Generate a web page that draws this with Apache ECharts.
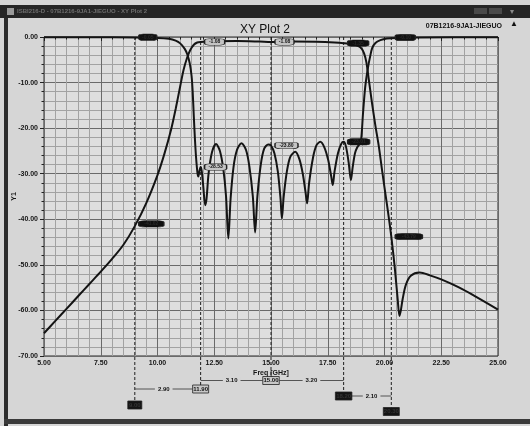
<!DOCTYPE html>
<html><head><meta charset="utf-8">
<script src="https://cdn.jsdelivr.net/npm/echarts/dist/echarts.min.js"></script>
<style>html,body{margin:0;padding:0;background:#d4d4d4}#c{width:530px;height:426px}</style>
</head><body><div id="c"></div><script>
// ---- data ----
const xTickValues = [5, 7.5, 10, 12.5, 15, 17.5, 20, 22.5, 25];
const yTickValues = [0, -10, -20, -30, -40, -50, -60, -70];

const s21Freq = [5.0,5.5,6.0,6.5,7.0,7.5,8.0,8.5,9.0,9.5,10.0,10.3,10.6,10.8,11.0,11.15,11.3,11.45,11.6,11.75,11.9,12.5,13.5,14.5,15.0,16.0,17.0,17.8,18.2,18.6,18.85,19.0,19.1,19.2,19.3,19.45,19.6,19.75,19.9,20.08,20.2,20.3,20.45,20.58,20.66,20.72,20.8,20.94,21.16,21.55,22.0,22.5,23.3,24.0,25.0];
const s21Db = [-65.0,-62.3,-59.6,-56.9,-54.2,-51.5,-48.7,-45.6,-41.5,-36.5,-30.3,-25.7,-20.3,-15.8,-10.8,-7.2,-4.6,-2.8,-1.7,-1.2,-1.08,-0.95,-0.9,-1.0,-1.08,-1.0,-1.05,-1.2,-1.35,-1.6,-2.0,-2.6,-3.6,-5.5,-9.0,-14.5,-19.5,-24.0,-29.5,-35.8,-40.0,-43.8,-50.5,-57.5,-61.2,-60.0,-57.5,-54.4,-52.4,-51.7,-52.3,-53.2,-55.0,-56.9,-59.8];

const s11Freq = [5.0,7.0,9.0,10.0,10.5,10.8,11.0,11.2,11.32,11.42,11.5,11.55,11.6,11.65,11.7,11.76,11.8,11.84,11.9,11.95,12.02,12.1,12.16,12.25,12.4,12.58,12.75,12.9,13.02,13.12,13.22,13.35,13.5,13.7,13.9,14.05,14.2,14.3,14.4,14.55,14.7,14.88,15.0,15.15,15.3,15.42,15.48,15.56,15.7,15.85,16.07,16.25,16.4,16.52,16.59,16.68,16.85,17.0,17.17,17.35,17.52,17.65,17.72,17.8,17.95,18.1,18.2,18.3,18.42,18.52,18.6,18.7,18.8,18.9,18.97,19.05,19.15,19.27,19.37,19.46,19.6,19.82,20.1,20.5,21.5,25.0];
const s11Db = [-0.05,-0.05,-0.1,-0.2,-0.4,-0.8,-1.4,-2.6,-3.9,-5.8,-8.5,-12.0,-17.5,-22.5,-26.5,-29.8,-30.6,-29.6,-28.5,-29.5,-33.0,-36.9,-35.5,-30.0,-25.3,-23.5,-25.0,-29.0,-35.0,-44.2,-35.5,-28.5,-24.8,-23.3,-24.8,-28.5,-35.0,-42.9,-35.0,-28.0,-24.5,-23.6,-23.8,-25.5,-29.5,-35.5,-39.8,-35.0,-29.5,-26.3,-25.2,-26.8,-30.0,-34.0,-36.5,-32.0,-26.5,-23.8,-23.0,-24.2,-27.0,-30.5,-32.5,-29.5,-25.5,-23.4,-23.0,-24.0,-27.5,-31.4,-28.5,-25.5,-24.2,-23.5,-22.6,-17.0,-11.0,-6.8,-4.2,-2.4,-1.3,-0.7,-0.35,-0.2,-0.1,-0.05];

const markerFreqs = [9.0, 11.9, 15.0, 18.2, 20.3];
const markerNames = ['9.00', '11.90', '15.00', '18.20', '20.30'];
const deltaNames = ['2.90', '3.10', '3.20', '2.10'];
const s21MarkerDb = [-41.0, -1.08, -1.08, -1.35, -43.8];
const s11MarkerDb = [-0.05, -28.53, -23.80, -23.0, -0.1];
const s21MarkerText = ['-41.02', '-1.08', '-1.08', '-1.35', '-43.79'];
const s11MarkerText = ['-0.05', '-28.53', '-23.80', '-23.01', '-0.10'];
const markerShown = [false, true, true, false, false]; // grey (readable) vs black boxes

// ---- chart ----
const FONT = '"Liberation Sans Narrow","Liberation Sans",Arial,sans-serif';
const zip = (a, b) => a.map((v, i) => [v, b[i]]);
const chart = echarts.init(document.getElementById('c'));

function markPts(vals, texts, widths) {
  return markerFreqs.map((f, i) => {
    const w = widths[i];
    const grey = markerShown[i];
    return {
      coord: [f, vals[i]],
      symbol: 'roundRect',
      symbolSize: [w, 6.5],
      symbolOffset: [w / 2 + 4, 0],
      itemStyle: {color: grey ? '#c4c4c4' : '#111', borderColor: '#222', borderWidth: 0.8},
      label: {show: true, position: 'inside', formatter: texts[i], fontSize: 5, fontWeight: 'bold',
               fontFamily: FONT, color: grey ? '#111' : '#2a2a2a'}
    };
  });
}

const axisCommon = {
  type: 'value',
  axisLine: {show: false},
  axisTick: {show: true, length: 4, lineStyle: {color: '#222'}},
  minorTick: {show: true, splitNumber: 5, length: 2.5, lineStyle: {color: '#222'}},
  splitLine: {show: true, lineStyle: {color: '#6a6a6a', width: 1}},
  minorSplitLine: {show: true, lineStyle: {color: '#a2a2a2', width: 1}},
  axisLabel: {formatter: v => v.toFixed(2), fontSize: 7, fontWeight: 'bold', color: '#151515', fontFamily: FONT},
  nameMoveOverlap: false,
  nameTextStyle: {fontSize: 7, fontWeight: 'bold', color: '#151515', fontFamily: FONT}
};

chart.setOption({
  animation: false,
  backgroundColor: '#d6d6d6',
  title: {text: 'XY Plot 2', left: 'center', top: 19,
          textStyle: {fontSize: 12, fontWeight: 'normal', color: '#111', fontFamily: 'Liberation Sans, Arial, sans-serif'}},
  grid: {left: 44, right: 32, top: 37, bottom: 70, containLabel: false, outerBoundsMode: 'none',
         show: true, backgroundColor: '#dedede', borderColor: '#2a2a2a', borderWidth: 1},
  xAxis: Object.assign({}, axisCommon, {
    min: xTickValues[0], max: xTickValues[xTickValues.length - 1], interval: xTickValues[1] - xTickValues[0],
    axisLabel: Object.assign({}, axisCommon.axisLabel, {margin: 4}),
    name: 'Freq [GHz]', nameLocation: 'middle', nameGap: 14
  }),
  yAxis: Object.assign({}, axisCommon, {
    min: yTickValues[yTickValues.length - 1], max: yTickValues[0], interval: yTickValues[0] - yTickValues[1],
    axisLabel: Object.assign({}, axisCommon.axisLabel, {margin: 6}),
    name: 'Y1', nameLocation: 'middle', nameGap: 26, nameRotate: 90
  }),
  series: [
    {name: 'S21', type: 'line', data: zip(s21Freq, s21Db), showSymbol: false, smooth: 0.3,
     lineStyle: {color: '#141414', width: 2}, z: 3,
     markPoint: {data: markPts(s21MarkerDb, s21MarkerText, [25, 20, 19, 21, 27]), z: 5}},
    {name: 'S11', type: 'line', data: zip(s11Freq, s11Db), showSymbol: false, smooth: 0.3,
     lineStyle: {color: '#141414', width: 2}, z: 3,
     markPoint: {data: markPts(s11MarkerDb, s11MarkerText, [18, 22, 23, 22, 20]), z: 5}}
  ]
});

// ---- marker lines & delta annotations (positions from the axis scale) ----
const px = markerFreqs.map(f => chart.convertToPixel({xAxisIndex: 0}, f));
const topY = chart.convertToPixel({yAxisIndex: 0}, yTickValues[0]);
const boxY = [405, 389, 380.5, 396, 411.5];         // centre y of the frequency boxes
const boxW = [14, 16, 16.5, 16.5, 16];
const boxDark = [true, false, false, true, true];
const g = [];
// window chrome
g.push({type: 'rect', shape: {x: 0, y: 5, width: 530, height: 13}, style: {fill: '#262626'}, z: 0});
g.push({type: 'rect', shape: {x: 7, y: 8, width: 7, height: 7}, style: {fill: '#9a9a9a'}, z: 1});
g.push({type: 'text', x: 17, y: 8.5, style: {text: 'ISBI216-D - 07B1216-9JA1-JIEGUO - XY Plot 2', fill: '#6f6f6f', font: 'bold 6px ' + FONT}, z: 1});
g.push({type: 'rect', shape: {x: 474, y: 8, width: 13, height: 6}, style: {fill: '#4a4a4a'}, z: 1});
g.push({type: 'rect', shape: {x: 489, y: 8, width: 13, height: 6}, style: {fill: '#4a4a4a'}, z: 1});
g.push({type: 'text', x: 510, y: 8, style: {text: '▾', fill: '#8a8a8a', font: '8px ' + FONT}, z: 1});
g.push({type: 'rect', shape: {x: 4, y: 18, width: 4, height: 408}, style: {fill: '#2c2c2c'}, z: 0});
g.push({type: 'rect', shape: {x: 4, y: 419, width: 526, height: 5}, style: {fill: '#3a3a3a'}, z: 0});
g.push({type: 'text', x: 502, y: 23, style: {text: '07B1216-9JA1-JIEGUO', fill: '#111', font: 'bold 7px ' + FONT, textAlign: 'right'}, z: 1});
g.push({type: 'text', x: 510, y: 20, style: {text: '▲', fill: '#111', font: '8px ' + FONT}, z: 1});

markerFreqs.forEach((f, i) => {
  const x = px[i];
  g.push({type: 'line', shape: {x1: x, y1: topY, x2: x, y2: boxY[i] - 4}, style: {stroke: '#1e1e1e', lineWidth: 1, lineDash: [3, 2]}, z: 1});
  g.push({type: 'rect', shape: {x: x - boxW[i] / 2, y: boxY[i] - 4, width: boxW[i], height: 8},
          style: {fill: boxDark[i] ? '#141414' : '#c8c8c8', stroke: '#222', lineWidth: 0.8}, z: 2});
  g.push({type: 'text', x: x, y: boxY[i], style: {text: markerNames[i], fill: boxDark[i] ? '#333' : '#111',
          font: 'bold 6px ' + FONT, textAlign: 'center', textVerticalAlign: 'middle'}, z: 3});
});
function delta(x1, x2, y, label) {
  g.push({type: 'line', shape: {x1: x1, y1: y, x2: x2, y2: y}, style: {stroke: '#333', lineWidth: 0.8}, z: 1});
  g.push({type: 'text', x: (x1 + x2) / 2, y: y, style: {text: label, fill: '#111', font: 'bold 6px ' + FONT,
          textAlign: 'center', textVerticalAlign: 'middle', backgroundColor: '#d6d6d6', padding: [0, 3]}, z: 2});
}
delta(px[0], px[1] - boxW[1] / 2, boxY[1], deltaNames[0]);
delta(px[1], px[2] - boxW[2] / 2, boxY[2], deltaNames[1]);
delta(px[2] + boxW[2] / 2, px[3], boxY[2], deltaNames[2]);
delta(px[3] + boxW[3] / 2, px[4], boxY[3], deltaNames[3]);
chart.setOption({graphic: g});
</script></body></html>
